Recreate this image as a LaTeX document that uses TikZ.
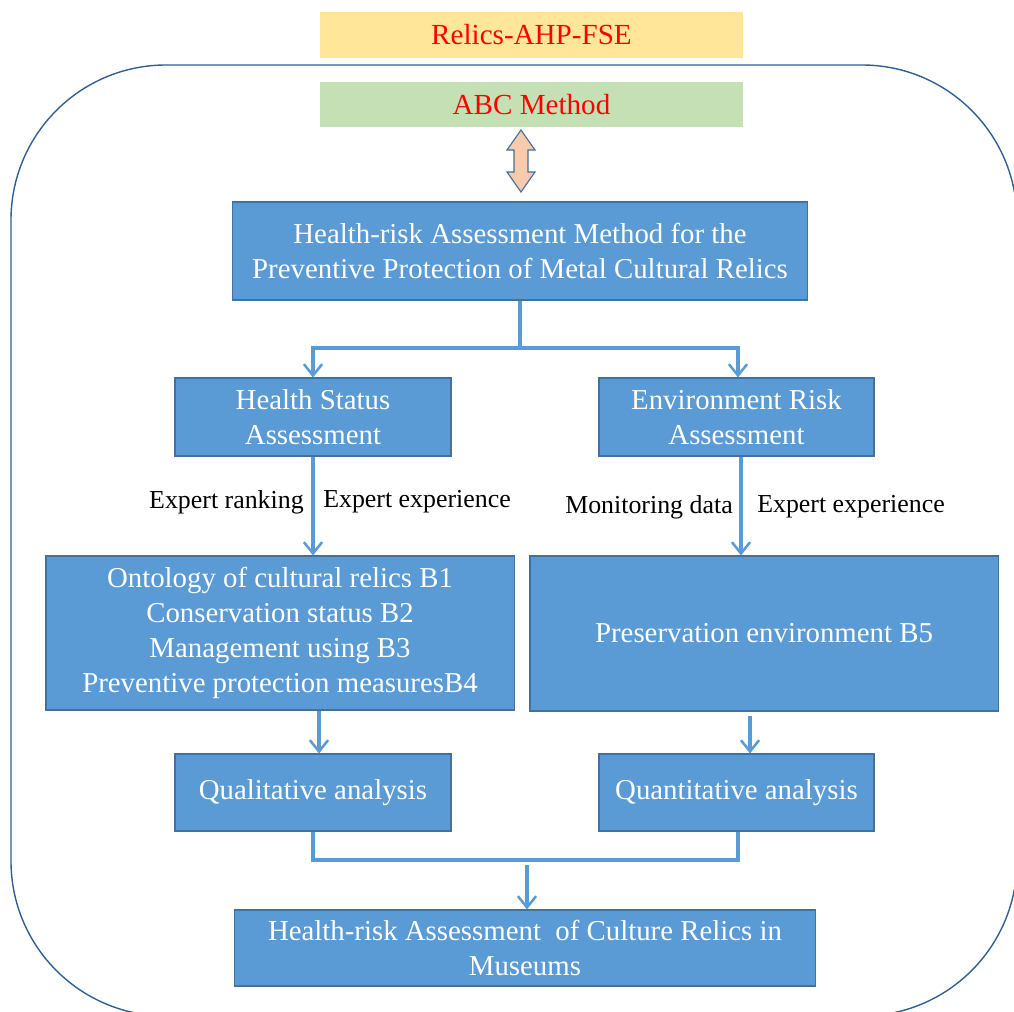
\documentclass[tikz,border=0pt]{standalone}
\usepackage{fontspec}
\setmainfont{Liberation Serif}
\usetikzlibrary{arrows.meta}
\definecolor{boxblue}{HTML}{5B9BD5}
\definecolor{edgeblue}{HTML}{41719C}
\definecolor{frameblue}{HTML}{2F5F93}
\definecolor{paleyellow}{HTML}{FFE699}
\definecolor{palegreen}{HTML}{C5E0B4}
\definecolor{paleorange}{HTML}{F8CBAD}
\begin{document}
\begin{tikzpicture}[x=0.025cm, y=-0.025cm,
    bluebox/.style={draw=edgeblue, line width=0.8pt, fill=boxblue, text=white, align=center,
      font=\fontsize{20.5}{24.8}\selectfont, inner sep=0pt},
    topbox/.style={align=center, text=red, font=\fontsize{20.7}{24}\selectfont, inner sep=0pt,
      minimum width=10.575cm},
    link/.style={draw=boxblue, line width=2.5pt},
    linkarrow/.style={link, -{Straight Barb[length=8pt, width=13pt, line width=1.8pt]}},
    lbl/.style={font=\fontsize{18.4}{21}\selectfont, inner sep=0pt}]
      \useasboundingbox (0,0) rectangle (1014,1012);
      \clip (0,0) rectangle (1014,1012);

      % Cadre
      \draw[frameblue, line width=1pt, rounded corners=3.875cm] (11,65) rectangle (1017,1016);

      % Titres
      \node[topbox, fill=paleyellow, minimum height=1.15cm] (ahp) at (531.5,35) {Relics-AHP-FSE};
      \node[topbox, fill=palegreen, minimum height=1.125cm] (abc) at (531.5,104.5) {ABC Method};

      % Double fleche
      \filldraw[fill=paleorange, draw=edgeblue, line width=0.8pt]
        (521,130) -- (535,150) -- (528,150) -- (528,172) -- (535,172) -- (521,192)
        -- (507,172) -- (514,172) -- (514,150) -- (507,150) -- cycle;

      % Boites
      \node[bluebox, minimum width=14.35cm, minimum height=2.45cm] (method) at (520,251)
        {Health-risk Assessment Method for the\\Preventive Protection of Metal Cultural Relics};
      \node[bluebox, minimum width=6.9cm, minimum height=1.95cm] (health) at (313,417)
        {Health Status\\Assessment};
      \node[bluebox, minimum width=6.875cm, minimum height=1.95cm] (env) at (736.5,417)
        {Environment Risk\\Assessment};
      \node[bluebox, minimum width=11.7cm, minimum height=3.85cm] (factors) at (280,633)
        {Ontology of cultural relics B1\\Conservation status B2\\Management using B3\\Preventive protection measuresB4};
      \node[bluebox, minimum width=11.7cm, minimum height=3.875cm] (preserve) at (764,633.5)
        {Preservation environment B5};
      \node[bluebox, minimum width=6.9cm, minimum height=1.925cm] (qual) at (313,792.5)
        {Qualitative analysis};
      \node[bluebox, minimum width=6.875cm, minimum height=1.925cm] (quant) at (736.5,792.5)
        {Quantitative analysis};
      \node[bluebox, minimum width=14.5cm, minimum height=1.9cm] (result) at (525,948)
        {Health-risk Assessment\ \ of Culture Relics in\\Museums};

      % Liaisons
      \coordinate (split) at (520,348);
      \draw[link] (method.south) -- (split);
      \draw[linkarrow] (split) -| (health.north);
      \draw[linkarrow] (split) -| ([xshift=1.5*0.025cm]env.north);
      \draw[linkarrow] (health.south) -- (health.south |- factors.north);
      \draw[linkarrow] ([xshift=4.5*0.025cm]env.south) -- ([xshift=4.5*0.025cm]env.south |- preserve.north);
      \draw[linkarrow] ([xshift=39*0.025cm]factors.south) -- ([xshift=39*0.025cm]factors.south |- qual.north);
      \draw[linkarrow] ([xshift=-14*0.025cm, yshift=-4*0.025cm]preserve.south) -- ([xshift=-14*0.025cm]preserve.south |- quant.north);
      \coordinate (merge) at (527,860);
      \draw[link] (qual.south) |- (merge) -| ([xshift=1.5*0.025cm]quant.south);
      \draw[linkarrow] ([yshift=-5*0.025cm]merge) -- (merge |- result.north);

      % Etiquettes
      \node[lbl, anchor=east] (rank) at (304,502) {Expert ranking};
      \node[lbl, anchor=west] (expa) at (323,502) {Expert experience};
      \node[lbl, anchor=east] (monitor) at (733,507) {Monitoring data};
      \node[lbl, anchor=west] (expb) at (757,507) {Expert experience};
\end{tikzpicture}
\end{document}
